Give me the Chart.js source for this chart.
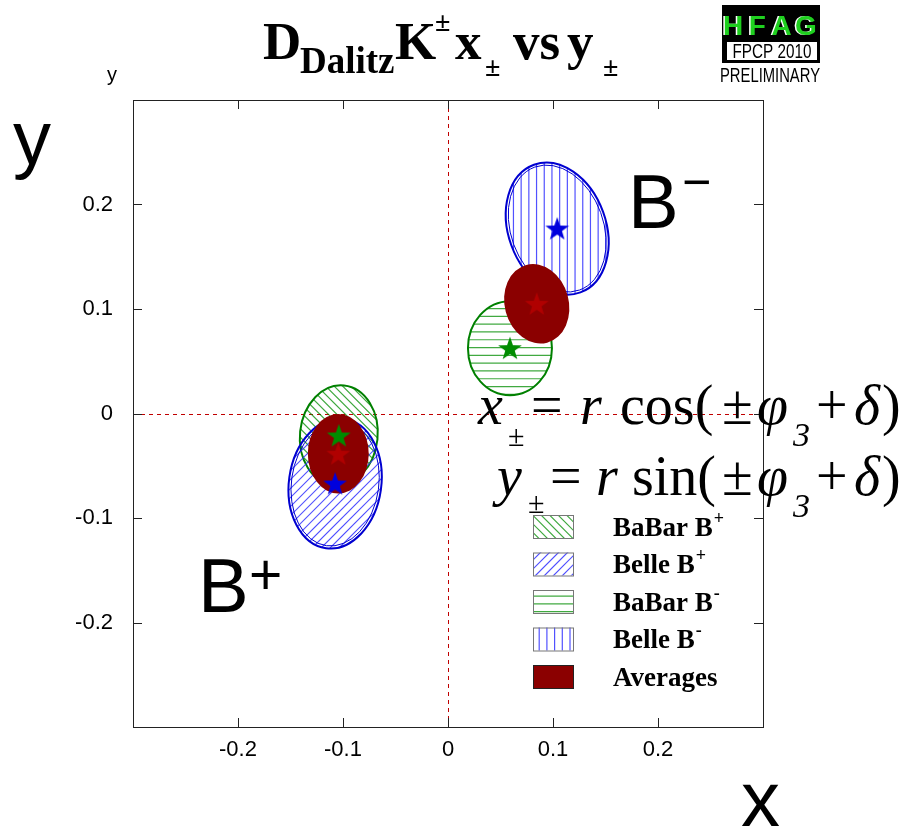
<!DOCTYPE html>
<html>
<head>
<meta charset="utf-8">
<title>DDalitz K x vs y</title>
<script src="https://cdn.jsdelivr.net/npm/chart.js@4.4.1/dist/chart.umd.min.js"></script>
<style>
  body { margin: 0; background: #fff; }
  canvas { display: block; }
</style>
</head>
<body>
<canvas id="xyChart" width="908" height="828"></canvas>
<script>
//AXES
const axisMin = -0.3;
const axisMax = 0.3;
const tickValues = [-0.2, -0.1, 0, 0.1, 0.2];

//CONTOURS (centre, half widths before tilt, tilt in degrees counter-clockwise)
const contourNames = ['BaBar B+', 'Belle B+', 'BaBar B-', 'Belle B-', 'Average B+', 'Average B-'];
const centerX = [-0.104, -0.1075, 0.059, 0.104, -0.1045, 0.0845];
const centerY = [-0.021, -0.067, 0.0625, 0.177, -0.0385, 0.105];
const halfX   = [0.037, 0.044, 0.040, 0.0465, 0.029, 0.0305];
const halfY   = [0.048, 0.0625, 0.045, 0.065, 0.038, 0.0385];
const tiltDeg = [-6, -8, 0, 20, 0, 15];

//LEGEND
const legendNames = ['BaBar B', 'Belle B', 'BaBar B', 'Belle B', 'Averages'];
const legendSup   = ['+', '+', '-', '-', ''];

const sans = '"Liberation Sans", Arial, sans-serif';
const serif = '"Liberation Serif", "Times New Roman", serif';

/* look of each contour */
const GREEN = '#008000', BLUE = '#0000d0', DARKRED = '#8b0000';
const contourStyle = [
  { hatch: '\\', line: GREEN, fillLine: 'rgba(0,140,0,0.75)', step: 8.5 },
  { hatch: '/',  line: BLUE,  fillLine: 'rgba(50,50,255,0.85)', step: 9 },
  { hatch: '-',  line: GREEN, fillLine: 'rgba(0,140,0,0.75)', step: 7.8 },
  { hatch: '|',  line: BLUE,  fillLine: 'rgba(50,50,255,0.85)', step: 7.7 },
  { hatch: 'fill', line: DARKRED },
  { hatch: 'fill', line: DARKRED }
];

/* parallel lines through a square of half size R around (cx,cy) */
function hatchLines(ctx, kind, cx, cy, R, step) {
  ctx.beginPath();
  for (let k = -2 * R; k <= 2 * R; k += step) {
    if (kind === '-') { ctx.moveTo(cx - R, cy + k); ctx.lineTo(cx + R, cy + k); }
    else if (kind === '|') { ctx.moveTo(cx + k, cy - R); ctx.lineTo(cx + k, cy + R); }
    else if (kind === '\\') { ctx.moveTo(cx + k - R, cy - R); ctx.lineTo(cx + k + R, cy + R); }
    else { ctx.moveTo(cx + k - R, cy + R); ctx.lineTo(cx + k + R, cy - R); }
  }
  ctx.stroke();
}

function drawContour(ctx, xs, ys, i) {
  const st = contourStyle[i];
  const px = xs.getPixelForValue(centerX[i]);
  const py = ys.getPixelForValue(centerY[i]);
  const rx = xs.getPixelForValue(centerX[i] + halfX[i]) - px;
  const ry = py - ys.getPixelForValue(centerY[i] + halfY[i]);
  const rot = -tiltDeg[i] * Math.PI / 180;

  ctx.save();
  ctx.beginPath();
  ctx.ellipse(px, py, rx, ry, rot, 0, Math.PI * 2);
  if (st.hatch === 'fill') {
    ctx.fillStyle = st.line;
    ctx.fill();
    ctx.restore();
    return;
  }
  ctx.clip();
  ctx.strokeStyle = st.fillLine;
  ctx.lineWidth = 1.2;
  hatchLines(ctx, st.hatch, px, py, Math.max(rx, ry) + 4, st.step);
  ctx.restore();

  ctx.save();
  ctx.strokeStyle = st.line;
  ctx.lineWidth = 2;
  ctx.beginPath();
  ctx.ellipse(px, py, rx, ry, rot, 0, Math.PI * 2);
  ctx.stroke();
  if (st.line === BLUE) {
    // belle contours come out doubled
    ctx.lineWidth = 1;
    ctx.beginPath();
    ctx.ellipse(px, py, rx - 2.5, ry - 2.5, rot, 0, Math.PI * 2);
    ctx.stroke();
  }
  ctx.restore();
}

/* filled five point star used as point marker */
function starImage(color) {
  const size = 26, R = 12.5, r = 5;
  const c = document.createElement('canvas');
  c.width = c.height = size;
  const g = c.getContext('2d');
  g.fillStyle = color;
  g.beginPath();
  for (let k = 0; k < 10; k++) {
    const rad = k % 2 ? r : R;
    const a = -Math.PI / 2 + k * Math.PI / 5;
    g.lineTo(size / 2 + rad * Math.cos(a), size / 2 + 1 + rad * Math.sin(a));
  }
  g.closePath();
  g.fill();
  return c;
}

function put(ctx, str, x, y, font, color) {
  ctx.font = font;
  ctx.fillStyle = color || '#000';
  ctx.textAlign = 'left';
  ctx.textBaseline = 'alphabetic';
  ctx.fillText(str, x, y);
}

/* squeeze text to a given width, centred */
function fitText(ctx, str, cx, y, font, width, color) {
  ctx.save();
  ctx.font = font;
  const w = ctx.measureText(str).width;
  ctx.translate(cx, y);
  ctx.scale(width / w, 1);
  ctx.textAlign = 'center';
  ctx.textBaseline = 'alphabetic';
  ctx.fillStyle = color;
  ctx.fillText(str, 0, 0);
  ctx.restore();
}

const contourPlugin = {
  id: 'contours',
  beforeDatasetsDraw(chart) {
    const { ctx, chartArea: a, scales: { x, y } } = chart;

    // dashed zero lines
    ctx.save();
    ctx.strokeStyle = '#c00000';
    ctx.lineWidth = 1;
    ctx.setLineDash([4, 4]);
    const x0 = Math.round(x.getPixelForValue(0)) + 0.5;
    const y0 = Math.round(y.getPixelForValue(0)) + 0.5;
    ctx.beginPath();
    ctx.moveTo(x0, a.top); ctx.lineTo(x0, a.bottom);
    ctx.moveTo(a.left, y0); ctx.lineTo(a.right, y0);
    ctx.stroke();
    ctx.restore();

    contourNames.forEach((n, i) => drawContour(ctx, x, y, i));
  },
  afterDraw(chart) {
    const { ctx, chartArea: a, scales: { x, y } } = chart;
    ctx.save();

    // frame and inward ticks
    ctx.strokeStyle = '#222';
    ctx.lineWidth = 1;
    ctx.strokeRect(a.left + 0.5, a.top + 0.5, a.right - a.left, a.bottom - a.top);
    ctx.beginPath();
    tickValues.forEach(v => {
      const px = Math.round(x.getPixelForValue(v)) + 0.5;
      ctx.moveTo(px, a.bottom); ctx.lineTo(px, a.bottom - 9);
      ctx.moveTo(px, a.top); ctx.lineTo(px, a.top + 9);
      const py = Math.round(y.getPixelForValue(v)) + 0.5;
      ctx.moveTo(a.left, py); ctx.lineTo(a.left + 9, py);
      ctx.moveTo(a.right, py); ctx.lineTo(a.right - 9, py);
    });
    ctx.stroke();

    // axis titles
    put(ctx, 'y', 107, 81, '20px ' + sans);
    put(ctx, 'y', 13, 164, '76px ' + sans);
    put(ctx, 'x', 741, 826, '78px ' + sans);

    // B- / B+ tags
    put(ctx, 'B', 628, 228, '76px ' + sans);
    put(ctx, '\u2212', 682, 199, '50px ' + sans);
    put(ctx, 'B', 198, 612, '76px ' + sans);
    put(ctx, '+', 249, 594, '57px ' + sans);

    // title
    const tb = 'bold 53px ' + serif;
    put(ctx, 'D', 263, 59, tb);
    put(ctx, 'Dalitz', 300, 73, 'bold 37px ' + serif);
    put(ctx, 'K', 395, 59, tb);
    put(ctx, '\u00b1', 435, 31, 'bold 28px ' + serif);
    put(ctx, 'x', 455, 59, tb);
    put(ctx, '\u00b1', 485, 76, 'bold 28px ' + serif);
    put(ctx, 'vs', 513, 59, tb);
    put(ctx, 'y', 567, 59, tb);
    put(ctx, '\u00b1', 603, 76, 'bold 28px ' + serif);

    // x/y definitions
    const it = 'italic 56px ' + serif, rm = '56px ' + serif;
    const sub = '30px ' + serif, sub3 = 'italic 34px ' + serif;
    [[424, 'x', 'cos(', 478, 508, 531, 580, 620, 22], [495, 'y', 'sin(', 497, 528, 550, 596, 632, 18]].forEach(r => {
      const b = r[0];
      put(ctx, r[1], r[3], b, it);
      put(ctx, '\u00b1', r[4], b + r[8], sub);
      put(ctx, '=', r[5], b, rm);
      put(ctx, 'r', r[6], b, it);
      put(ctx, r[2], r[7], b, rm);
      put(ctx, '\u00b1', 722, b, rm);
      put(ctx, '\u03c6', 757, b, it);
      put(ctx, '3', 793, b + 22, sub3);
      put(ctx, '+', 816, b, rm);
      put(ctx, '\u03b4', 854, b, it);
      put(ctx, ')', 882, b, rm);
    });

    // legend
    legendNames.forEach((name, i) => {
      const st = contourStyle[i];
      const bx = 533, by = 515 + i * 37.5, bw = 40, bh = 23;
      ctx.save();
      ctx.beginPath();
      ctx.rect(bx, by, bw, bh);
      if (st.hatch === 'fill') {
        ctx.fillStyle = DARKRED;
        ctx.fill();
      } else {
        ctx.clip();
        ctx.strokeStyle = st.fillLine;
        ctx.lineWidth = 1.2;
        hatchLines(ctx, st.hatch, bx + bw / 2, by + bh / 2, 30, st.step);
      }
      ctx.restore();
      ctx.strokeStyle = st.hatch === 'fill' ? '#222' : '#777';
      ctx.lineWidth = 1;
      ctx.strokeRect(bx + 0.5, by + 0.5, bw, bh);

      const lf = 'bold 27px ' + serif;
      put(ctx, name, 613, by + bh / 2 + 9, lf);
      if (legendSup[i]) {
        ctx.font = lf;
        const w = ctx.measureText(name).width;
        put(ctx, legendSup[i], 613 + w + 1, by + bh / 2 - 3, 'bold 18px ' + serif);
      }
    });

    // HFAG badge
    ctx.fillStyle = '#000';
    ctx.fillRect(722, 5, 98, 58);
    ctx.fillStyle = '#fff';
    ctx.fillRect(727, 42, 90, 18);
    ['H', 'F', 'A', 'G'].forEach((ch, k) => {
      const cx = 733 + k * 24.3;
      ctx.font = 'bold 28px ' + sans;
      ctx.textAlign = 'center';
      ctx.fillStyle = '#fff';
      ctx.fillText(ch, cx - 1.5, 35);
      ctx.fillStyle = '#1fd01f';
      ctx.fillText(ch, cx, 35);
    });
    fitText(ctx, 'FPCP 2010', 772, 58, '20px ' + sans, 79, '#000');
    fitText(ctx, 'PRELIMINARY', 770, 82, '21px ' + sans, 100, '#000');

    ctx.restore();
  }
};

const pt = i => ({ x: centerX[i], y: centerY[i] });

new Chart(document.getElementById('xyChart'), {
  type: 'scatter',
  data: {
    datasets: [
      { label: 'BaBar', data: [0, 2].map(pt), pointStyle: starImage('#008c00'), pointRadius: 12 },
      { label: 'Belle', data: [1, 3].map(pt), pointStyle: starImage('#0000dd'), pointRadius: 12 },
      { label: 'Averages', data: [4, 5].map(pt), pointStyle: starImage('#b00000'), pointRadius: 12 }
    ]
  },
  options: {
    responsive: false,
    animation: false,
    events: [],
    layout: { padding: { top: 100, right: 145, left: 0, bottom: 0 } },
    plugins: { legend: { display: false }, tooltip: { enabled: false } },
    scales: {
      x: {
        type: 'linear', min: axisMin, max: axisMax,
        afterFit: s => { s.height = 101; },
        grid: { display: false, drawTicks: false }, border: { display: false },
        ticks: {
          stepSize: 0.1, padding: 10, color: '#000', font: { family: sans, size: 22 },
          callback: v => tickValues.some(t => Math.abs(t - v) < 1e-6) ? String(Math.round(v * 10) / 10) : ''
        }
      },
      y: {
        type: 'linear', min: axisMin, max: axisMax,
        afterFit: s => { s.width = 133; },
        grid: { display: false, drawTicks: false }, border: { display: false },
        ticks: {
          stepSize: 0.1, padding: 20, color: '#000', font: { family: sans, size: 22 },
          callback: v => tickValues.some(t => Math.abs(t - v) < 1e-6) ? String(Math.round(v * 10) / 10) : ''
        }
      }
    }
  },
  plugins: [contourPlugin]
});
</script>
</body>
</html>
